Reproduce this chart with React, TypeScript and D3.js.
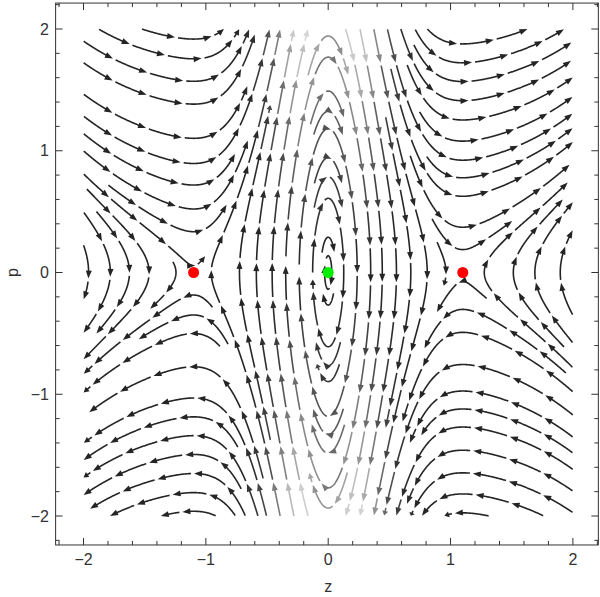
import React, { useMemo } from "react";
import * as d3 from "d3";

// ---- data ----
const zTicks = [-2, -1, 0, 1, 2];
const pTicks = [-2, -1, 0, 1, 2];
const zMinorTicks = [-2.2, -1.8, -1.6, -1.4, -1.2, -0.8, -0.6, -0.4, -0.2, 0.2, 0.4, 0.6, 0.8, 1.2, 1.4, 1.6, 1.8, 2.2];
const pMinorTicks = [-2.2, -1.8, -1.6, -1.4, -1.2, -0.8, -0.6, -0.4, -0.2, 0.2, 0.4, 0.6, 0.8, 1.2, 1.4, 1.6, 1.8, 2.2];
const fixedZ = [-1.1, 0, 1.1];
const fixedP = [0, 0, 0];
const fixedKind = ["saddle", "center", "saddle"];
const streamDomain = [-2, 2];
const frameZ = [-2.228, 2.208];
const frameP = [-2.238, 2.213];
// field: dz/dt = p/sqrt(1+p^2), dp/dt = -W'(z)
const wellCurv = 22; // W''(0)
const saddleZ = 1.1;
const outerLin = 0.06;
const outerCub = 0.017;
const wellWidth = Math.log(wellCurv / (2 * outerLin)) / (saddleZ * saddleZ);

function dW(z: number) {
  return wellCurv * z * Math.exp(-wellWidth * z * z) - 2 * outerLin * z - 4 * outerCub * z * (z * z - saddleZ * saddleZ);
}
function velocity(z: number, p: number): [number, number] {
  return [p / Math.sqrt(1 + p * p), -dW(z)];
}
function shade(z: number, p: number) {
  const w = dW(z);
  return Math.abs(p) * Math.sqrt(p * p + w * w) * Math.exp(-5 * z * z);
}

type Pt = [number, number];

function computeStreams(x: d3.ScaleLinear<number, number>, y: d3.ScaleLinear<number, number>) {
  const kx = x(1) - x(0), ky = y(0) - y(1);
  const X0 = x(0), Y0 = y(0);
  const toZ = (px: number) => (px - X0) / kx;
  const toP = (py: number) => (Y0 - py) / ky;
  const xmin = x(streamDomain[0]), xmax = x(streamDomain[1]);
  const ymin = y(streamDomain[1]), ymax = y(streamDomain[0]);
  const sepAt = (px: number) => {
    const a = Math.abs(toZ(px));
    const t = Math.max(0, Math.min(1, (a - 0.55) / 0.45));
    return 13.5 + 5 * t;
  };
  const h = 0.7;
  const cell = 19;
  const gw = Math.ceil(620 / cell);
  const grid: Pt[][] = Array.from({ length: gw * gw }, () => []);
  const fp = fixedZ.map((z, i) => [x(z), y(fixedP[i])] as Pt);
  const fpSeedR = fixedKind.map((k) => (k === "center" ? 12 : 5));

  function nearGlobal(px: number, py: number, r: number) {
    const cx = Math.floor(px / cell), cy = Math.floor(py / cell);
    const rr = Math.ceil(r / cell);
    for (let j = cy - rr; j <= cy + rr; j++) {
      if (j < 0 || j >= gw) continue;
      for (let i = cx - rr; i <= cx + rr; i++) {
        if (i < 0 || i >= gw) continue;
        for (const q of grid[i + j * gw]) {
          const dx = q[0] - px, dy = q[1] - py;
          if (dx * dx + dy * dy < r * r) return true;
        }
      }
    }
    return false;
  }
  function dir(px: number, py: number, sgn: number): Pt | null {
    const [vz, vp] = velocity(toZ(px), toP(py));
    const dx = kx * vz, dy = -ky * vp;
    const m = Math.hypot(dx, dy);
    if (m < 1e-7) return null;
    return [(sgn * dx) / m, (sgn * dy) / m];
  }
  function trace(sx: number, sy: number) {
    const local = new Map<number, { x: number; y: number; s: number }[]>();
    const addLocal = (px: number, py: number, s: number) => {
      const k = Math.floor(px / cell) + Math.floor(py / cell) * gw;
      if (!local.has(k)) local.set(k, []);
      local.get(k)!.push({ x: px, y: py, s });
    };
    const nearLocal = (px: number, py: number, s: number, r: number) => {
      const cx = Math.floor(px / cell), cy = Math.floor(py / cell);
      for (let j = cy - 1; j <= cy + 1; j++)
        for (let i = cx - 1; i <= cx + 1; i++) {
          const arr = local.get(i + j * gw);
          if (!arr) continue;
          for (const q of arr) {
            if (Math.abs(q.s - s) < 45) continue;
            const dx = q.x - px, dy = q.y - py;
            if (dx * dx + dy * dy < r * r) return true;
          }
        }
      return false;
    };
    const halves: Pt[][] = [];
    addLocal(sx, sy, 0);
    for (const sgn of [1, -1]) {
      const pts: Pt[] = [];
      let px = sx, py = sy;
      for (let i = 1; i < 5000; i++) {
        const d1 = dir(px, py, sgn);
        if (!d1) break;
        const d2 = dir(px + 0.5 * h * d1[0], py + 0.5 * h * d1[1], sgn);
        if (!d2) break;
        const nx = px + h * d2[0], ny = py + h * d2[1];
        if (nx < xmin || nx > xmax || ny < ymin || ny > ymax) break;
        if (fp.some((f) => Math.hypot(nx - f[0], ny - f[1]) < 3)) break;
        const dTest = 0.47 * sepAt(nx);
        if (nearGlobal(nx, ny, dTest)) break;
        const s = sgn * i * h;
        if (nearLocal(nx, ny, s, dTest)) break;
        pts.push([nx, ny]);
        addLocal(nx, ny, s);
        px = nx;
        py = ny;
      }
      halves.push(pts);
    }
    return [...halves[1].reverse(), [sx, sy] as Pt, ...halves[0]];
  }

  const streams: Pt[][] = [];
  const queue: Pt[] = [];
  const validSeed = (px: number, py: number) =>
    px > xmin && px < xmax && py > ymin && py < ymax &&
    !fp.some((f, i) => Math.hypot(px - f[0], py - f[1]) < fpSeedR[i]) &&
    !nearGlobal(px, py, sepAt(px) * 0.95);

  const commit = (pts: Pt[]) => {
    for (const q of pts) grid[Math.floor(q[0] / cell) + Math.floor(q[1] / cell) * gw].push(q);
    streams.push(pts);
    let acc = 0;
    for (let i = 1; i < pts.length; i++) {
      const dx = pts[i][0] - pts[i - 1][0], dy = pts[i][1] - pts[i - 1][1];
      const l = Math.hypot(dx, dy);
      acc += l;
      if (acc > 7 && l > 0) {
        acc = 0;
        const sp = sepAt(pts[i][0]);
        const nx = -dy / l, ny = dx / l;
        queue.push([pts[i][0] + nx * sp, pts[i][1] + ny * sp]);
        queue.push([pts[i][0] - nx * sp, pts[i][1] - ny * sp]);
      }
    }
  };
  const tryseed = (s: Pt) => {
    if (!validSeed(s[0], s[1])) return;
    const pts = trace(s[0], s[1]);
    if (pts.length * h > 8) commit(pts);
  };
  tryseed([x(-0.127), y(0)]);
  const gridSeeds: Pt[] = [];
  for (let gy = ymin + 4; gy < ymax; gy += 8)
    for (let gx = xmin + 4; gx < xmax; gx += 8) gridSeeds.push([gx, gy]);
  let gi = 0;
  while (true) {
    while (queue.length) tryseed(queue.shift()!);
    if (gi >= gridSeeds.length) break;
    tryseed(gridSeeds[gi++]);
  }
  return { streams, toZ, toP };
}

function splitPieces(pts: Pt[], L: number, G: number) {
  const c = [0];
  for (let i = 1; i < pts.length; i++) c.push(c[i - 1] + Math.hypot(pts[i][0] - pts[i - 1][0], pts[i][1] - pts[i - 1][1]));
  const total = c[c.length - 1];
  const at = (s: number): Pt => {
    let i = d3.bisectLeft(c, s);
    if (i <= 0) return pts[0];
    if (i >= c.length) return pts[pts.length - 1];
    const t = (s - c[i - 1]) / (c[i] - c[i - 1] || 1);
    return [pts[i - 1][0] + t * (pts[i][0] - pts[i - 1][0]), pts[i - 1][1] + t * (pts[i][1] - pts[i - 1][1])];
  };
  const out: { line: Pt[]; tip: Pt; dir: Pt; mid: Pt; len: number }[] = [];
  let s = 0;
  while (s < total) {
    const e = Math.min(s + L, total);
    if (e - s > 5) {
      const arrowBack = Math.min(4, (e - s) * 0.4);
      const line: Pt[] = [at(s)];
      for (let i = 0; i < pts.length; i++) if (c[i] > s && c[i] < e - arrowBack) line.push(pts[i]);
      line.push(at(e - arrowBack));
      const tip = at(e);
      const back = at(Math.max(s, e - 3));
      const dx = tip[0] - back[0], dy = tip[1] - back[1];
      const m = Math.hypot(dx, dy) || 1;
      out.push({ line, tip, dir: [dx / m, dy / m], mid: at((s + e) / 2), len: e - s });
    }
    s = e + G;
  }
  return out;
}

export default function App() {
  const width = 600, height = 597;
  const x = d3.scaleLinear().domain([-2, 2]).range([83.5, 572.9]);
  const y = d3.scaleLinear().domain([2, -2]).range([29, 516]);
  const fx0 = x(frameZ[0]), fx1 = x(frameZ[1]);
  const fy0 = y(frameP[1]), fy1 = y(frameP[0]);

  const drawn = useMemo(() => {
    const { streams, toZ, toP } = computeStreams(x, y);
    let tMax = 0;
    for (let z = -2; z <= 2; z += 0.02)
      for (let p = -2; p <= 2; p += 0.02) tMax = Math.max(tMax, shade(z, p));
    const line = d3.line<Pt>().x((d) => d[0]).y((d) => d[1]);
    const els: JSX.Element[] = [];
    let k = 0;
    for (const st of streams) {
      for (const pc of splitPieces(st, 34, 3)) {
        const t = shade(toZ(pc.mid[0]), toP(pc.mid[1])) / tMax;
        const g = Math.round(255 * (0.14 + 0.74 * Math.pow(Math.min(1, t), 1.2)));
        const col = `rgb(${g},${g},${g})`;
        const [dx, dy] = pc.dir;
        const al = Math.min(8, pc.len * 0.6), aw = 3;
        const bx = pc.tip[0] - dx * al, by = pc.tip[1] - dy * al;
        const tri = `M${pc.tip[0]},${pc.tip[1]}L${bx - dy * aw},${by + dx * aw}L${bx + dy * aw},${by - dx * aw}Z`;
        els.push(
          <g key={k++}>
            <path d={line(pc.line) || ""} fill="none" stroke={col} strokeWidth={1.6} strokeLinecap="butt" />
            <path d={tri} fill={col} stroke="none" />
          </g>
        );
      }
    }
    return els;
  }, []);

  const frameColor = "#333";
  const textColor = "#333";
  const font = "'Liberation Sans', Arial, sans-serif";
  const majLen = 7, minLen = 4;

  return (
    <svg width={width} height={height} style={{ position: "absolute", left: 0, top: 0, background: "#fff" }}>
      <g>{drawn}</g>
      {fixedZ.map((z, i) => (
        <circle key={i} cx={x(z)} cy={y(fixedP[i])} r={5.5} fill={fixedKind[i] === "saddle" ? "#ff0000" : "#00ee00"} />
      ))}
      <rect x={fx0} y={fy0} width={fx1 - fx0} height={fy1 - fy0} fill="none" stroke={frameColor} strokeWidth={1} />
      {zTicks.map((t) => (
        <g key={"zt" + t}>
          <line x1={x(t)} x2={x(t)} y1={fy1} y2={fy1 - majLen} stroke={frameColor} />
          <line x1={x(t)} x2={x(t)} y1={fy0} y2={fy0 + majLen} stroke={frameColor} />
          <text x={x(t)} y={565} textAnchor="middle" fontFamily={font} fontSize={16} fill={textColor}>
            {t < 0 ? "\u2212" + Math.abs(t) : String(t)}
          </text>
        </g>
      ))}
      {zMinorTicks.map((t) => (
        <g key={"zm" + t}>
          <line x1={x(t)} x2={x(t)} y1={fy1} y2={fy1 - minLen} stroke={frameColor} />
          <line x1={x(t)} x2={x(t)} y1={fy0} y2={fy0 + minLen} stroke={frameColor} />
        </g>
      ))}
      {pTicks.map((t) => (
        <g key={"pt" + t}>
          <line x1={fx0} x2={fx0 + majLen} y1={y(t)} y2={y(t)} stroke={frameColor} />
          <line x1={fx1} x2={fx1 - majLen} y1={y(t)} y2={y(t)} stroke={frameColor} />
          <text x={49} y={y(t) + 5.5} textAnchor="end" fontFamily={font} fontSize={16} fill={textColor}>
            {t < 0 ? "\u2212" + Math.abs(t) : String(t)}
          </text>
        </g>
      ))}
      {pMinorTicks.map((t) => (
        <g key={"pm" + t}>
          <line x1={fx0} x2={fx0 + minLen} y1={y(t)} y2={y(t)} stroke={frameColor} />
          <line x1={fx1} x2={fx1 - minLen} y1={y(t)} y2={y(t)} stroke={frameColor} />
        </g>
      ))}
      <text x={x(0)} y={592} textAnchor="middle" fontFamily={font} fontSize={16} fill={textColor}>z</text>
      <text transform={`translate(18,${y(0)}) rotate(-90)`} textAnchor="middle" fontFamily={font} fontSize={16} fill={textColor}>p</text>
    </svg>
  );
}
